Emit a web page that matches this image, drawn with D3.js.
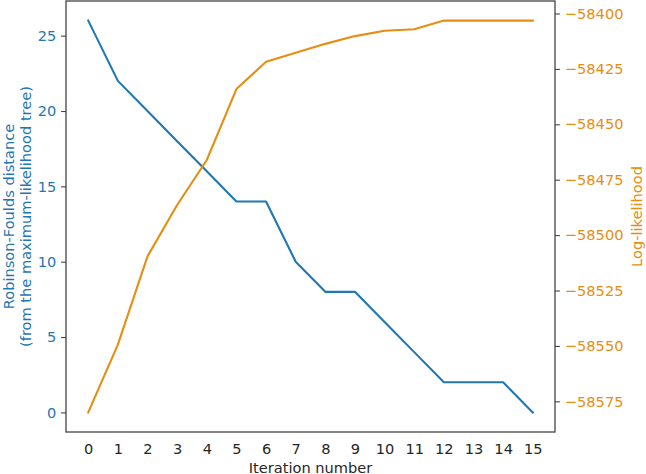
<!DOCTYPE html>
<html><head><meta charset="utf-8">
<script src="https://cdn.jsdelivr.net/npm/d3@7"></script>
<style>
html,body{margin:0;padding:0;background:#fff;}
svg text{font-family:"DejaVu Sans",sans-serif;}
</style></head>
<body><svg id="c" width="646" height="474"></svg>
<script>
const iterations = [0,1,2,3,4,5,6,7,8,9,10,11,12,13,14,15];
const rfDistance = [26,22,20,18,16,14,14,10,8,8,6,4,2,2,2,0];
const logLikelihood = [-58580,-58549.4,-58509.6,-58486.4,-58466.1,-58434.1,-58421.8,-58417.7,-58413.7,-58410.2,-58407.8,-58407.1,-58403.2,-58403.2,-58403.2,-58403.2];
const xTicks = iterations;
const leftTicks = [0,5,10,15,20,25];
const rightTicks = [-58575,-58550,-58525,-58500,-58475,-58450,-58425,-58400];

const blue = "#1f77b4", orange = "#e58f12";
const svg = d3.select("#c");
const L = 66, R = 555, T = 1, B = 432;
function padDomain(vals){const mn=d3.min(vals),mx=d3.max(vals),r=mx-mn;return [mn-0.05*r,mx+0.05*r];}
const x = d3.scaleLinear().domain(padDomain(iterations)).range([L,R]);
const yL = d3.scaleLinear().domain(padDomain(rfDistance)).range([B,T]);
const yR = d3.scaleLinear().domain(padDomain(logLikelihood)).range([B,T]);
const fs = 14.6;

// lines
const lineL = d3.line().x((d,i)=>x(iterations[i])).y(d=>yL(d));
const lineR = d3.line().x((d,i)=>x(iterations[i])).y(d=>yR(d));
svg.append("path").datum(rfDistance).attr("d",lineL).attr("fill","none").attr("stroke",blue).attr("stroke-width",2.1).attr("stroke-linejoin","round").attr("stroke-linecap","square");
svg.append("path").datum(logLikelihood).attr("d",lineR).attr("fill","none").attr("stroke",orange).attr("stroke-width",2.1).attr("stroke-linejoin","round").attr("stroke-linecap","square");

// axes
const ax = svg.append("g").attr("transform",`translate(0,${B})`).call(d3.axisBottom(x).tickValues(xTicks).tickSize(0).tickPadding(11.3).tickFormat(d3.format("d")));
const al = svg.append("g").attr("transform",`translate(${L},0)`).call(d3.axisLeft(yL).tickValues(leftTicks).tickSize(4.9).tickPadding(4.9).tickFormat(d3.format("d")));
const ar = svg.append("g").attr("transform",`translate(${R},0)`).call(d3.axisRight(yR).tickValues(rightTicks).tickSize(4.9).tickPadding(4.9).tickFormat(d=>"\u2212"+Math.abs(d)));
[ax,al,ar].forEach(g=>{g.select(".domain").remove();g.selectAll("text").attr("font-size",fs).attr("font-family","DejaVu Sans");});
ax.selectAll("text").attr("fill","#262626");
ax.selectAll("line").remove();
al.selectAll("text").attr("fill",blue);
al.selectAll("line").attr("stroke","#444").attr("stroke-width",1.1);
ar.selectAll("text").attr("fill",orange);
ar.selectAll("line").attr("stroke","#444").attr("stroke-width",1.1);

// frame
svg.append("rect").attr("x",L).attr("y",T).attr("width",R-L).attr("height",B-T).attr("fill","none").attr("stroke","#444").attr("stroke-width",1.3);

// labels
svg.append("text").attr("x",(L+R)/2).attr("y",472.5).attr("text-anchor","middle").attr("font-size",fs).attr("fill","#262626").text("Iteration number");
const cy = (T+B)/2;
svg.append("text").attr("transform",`translate(14,${cy}) rotate(-90)`).attr("text-anchor","middle").attr("font-size",fs).attr("fill",blue).text("Robinson-Foulds distance");
svg.append("text").attr("transform",`translate(31,${cy}) rotate(-90)`).attr("text-anchor","middle").attr("font-size",fs).attr("fill",blue).text("(from the maximum-likelihood tree)");
svg.append("text").attr("transform",`translate(642,${cy}) rotate(-90)`).attr("text-anchor","middle").attr("font-size",fs).attr("fill",orange).text("Log-likelihood");
</script></body></html>
